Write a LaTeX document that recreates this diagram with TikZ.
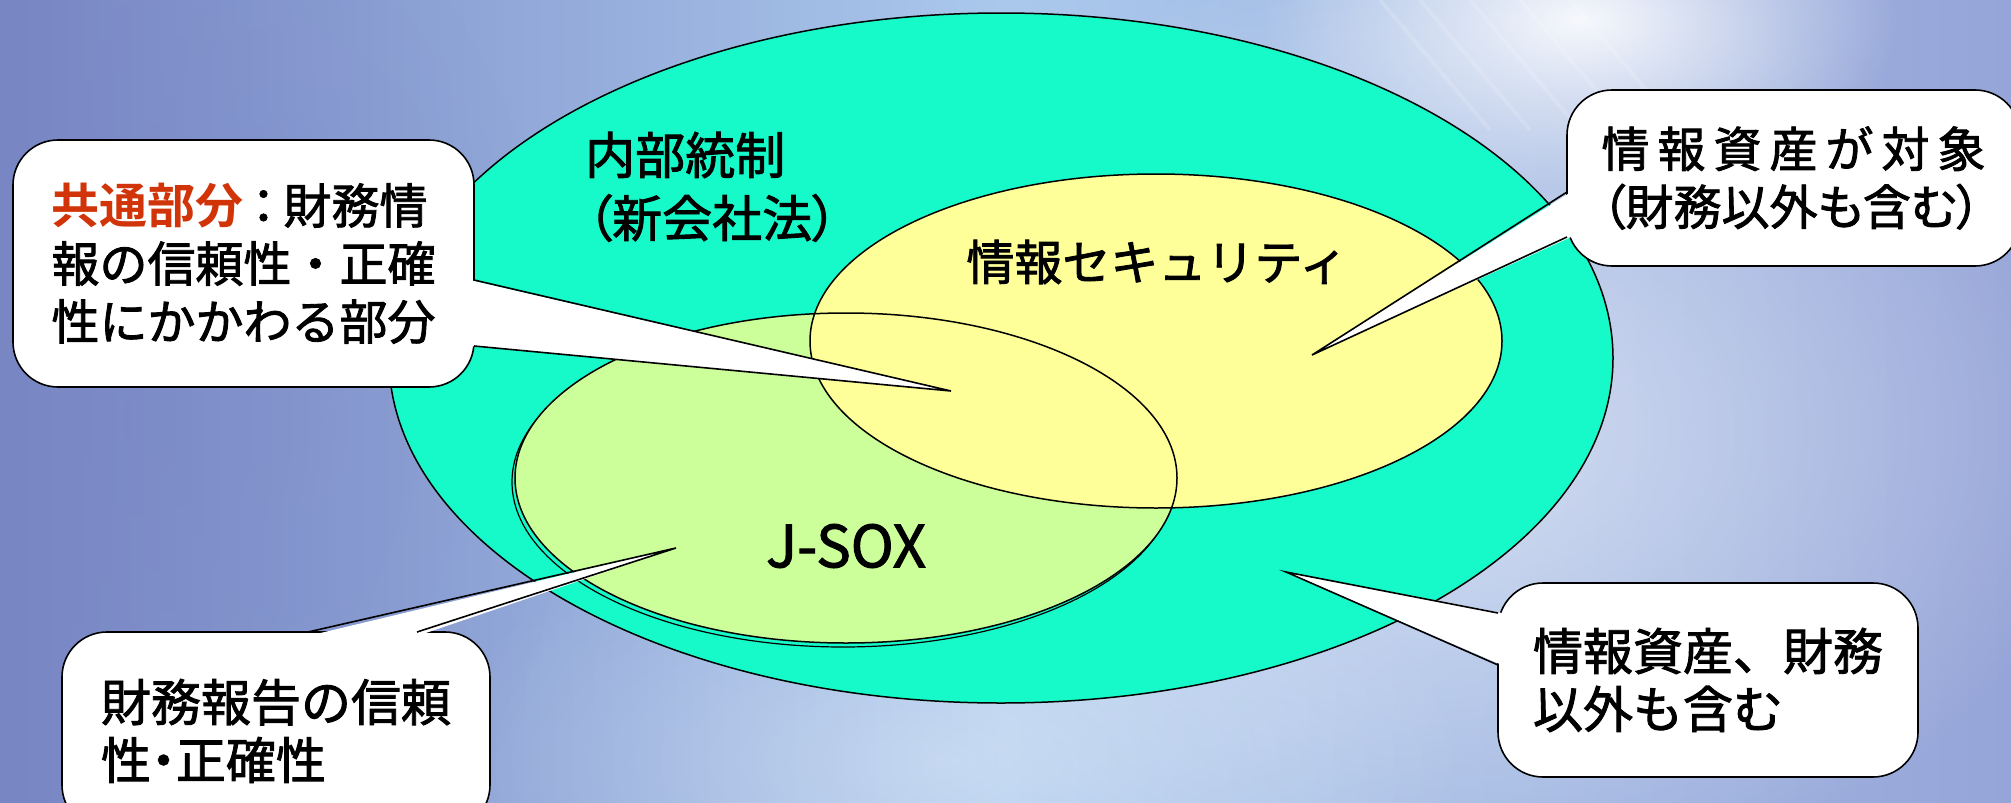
\documentclass[tikz,border=0pt]{standalone}
\usepackage{fontspec}
\setmainfont{Noto Sans CJK JP}[FakeBold=1.8]
\newfontfamily\jpp{Noto Sans CJK JP}[RawFeature=+palt, FakeBold=1.8]
\newfontfamily\jpbold{Noto Sans CJK JP Bold}
\usetikzlibrary{fadings}
\definecolor{bgL}{RGB}{120,134,196}
\definecolor{bgM}{RGB}{170,200,236}
\definecolor{bgR}{RGB}{150,165,216}
\definecolor{cyanF}{RGB}{22,250,202}
\definecolor{yelF}{RGB}{255,255,153}
\definecolor{grnF}{RGB}{204,255,153}
\definecolor{jred}{RGB}{208,52,8}
\tikzfading[name=glowfade, inner color=transparent!0, outer color=transparent!100]
\begin{document}
\begin{tikzpicture}[x=1pt,y=-1pt,
  ell/.style={draw=black, line width=1.5pt},
  callout/.style={draw=black, fill=white, line width=1.6pt, rounded corners=45pt,
    inner sep=0pt, align=left},
  wedgeline/.style={draw=black, line width=1.6pt},
  lbl/.style={inner sep=0pt, text=black}]
\useasboundingbox (0,0) rectangle (2011,803);
% background
\shade[left color=bgL, right color=bgR, middle color=bgM] (0,0) rectangle (2011,803);
\fill[white, opacity=0.55, path fading=glowfade] (1450,430) ellipse (650pt and 480pt);
\fill[white, opacity=0.9, path fading=glowfade] (1580,20) ellipse (320pt and 170pt);
\fill[white, opacity=0.35, path fading=glowfade] (950,760) ellipse (520pt and 260pt);
\fill[bgL, opacity=0.4, path fading=glowfade] (150,420) ellipse (420pt and 600pt);
\foreach \a in {1380, 1420, 1470, 1520, 1570}
  \draw[white, opacity=0.15, line width=4pt] (\a,0) -- ++(110,130);
% ellipses
\fill[cyanF] (1001,358) ellipse (612pt and 345pt);
\draw[ell] (1001,358) ellipse (612pt and 345pt);
\draw[black, line width=1.2pt] (843,482) ellipse (331pt and 165pt);
\fill[grnF] (846,478) ellipse (331pt and 165pt);
\fill[yelF] (1156,341) ellipse (346pt and 167pt);
\draw[ell] (846,478) ellipse (331pt and 165pt);
\draw[ell] (1156,341) ellipse (346pt and 167pt);
% labels
\node[lbl, anchor=west, font=\fontsize{50}{60}\selectfont] (naibu) at (585,155) {内部統制};
\node[lbl, anchor=west, font=\fontsize{50}{60}\selectfont\jpp] (shinkaisha) at (587,218) {（新会社法）};
\node[lbl, font=\fontsize{48}{58}\selectfont] (security) at (1157,262) {情報セキュリティ};
\node[lbl, font=\fontsize{58}{60}\selectfont] (jsox) at (846,546) {J-SOX};
% callout boxes
\node[callout, minimum width=461pt, minimum height=247pt, font=\fontsize{48}{58}\selectfont] (c1) at (243.5,263.5)
  {{\jpbold\color{jred}共通部分}{\jpp\,：\,}財務情\\報の信頼性・正確\\性にかかわる部分};
\node[callout, minimum width=453pt, minimum height=176pt, font=\fontsize{48}{58}\selectfont] (c2) at (1793.5,178)
  {情\,報\,資\,産\,が\,対\,象\\{\jpp （財務以外も含む）}};
\node[callout, minimum width=428pt, minimum height=198pt, font=\fontsize{50}{58}\selectfont] (c3) at (276,731)
  {財務報告の信頼\\性{\jpp ・}正確性};
\node[callout, minimum width=420pt, minimum height=194pt, font=\fontsize{50}{58}\selectfont] (c4) at (1708,680)
  {情報資産、財務\\以外も含む};
% pointer coordinates
\coordinate (t1) at (951,391);
\coordinate (c1a) at (474,280);
\coordinate (c1b) at (474,346);
\coordinate (t2) at (1312,355);
\coordinate (c2a) at (1567,192);
\coordinate (c2b) at (1567,237);
\coordinate (t3) at (676,548);
\coordinate (c3a) at (308,632);
\coordinate (c3b) at (417,632);
\coordinate (t4) at (1286,572);
\coordinate (c4a) at (1498,613);
\coordinate (c4b) at (1498,665);
% wedges
\fill[white] ([xshift=-4pt]c1a) -- (t1) -- ([xshift=-4pt]c1b) -- cycle;
\draw[wedgeline] (c1a) -- (t1) -- (c1b);
\fill[white] ([xshift=4pt]c2a) -- (t2) -- ([xshift=4pt]c2b) -- cycle;
\draw[wedgeline] (c2a) -- (t2) -- (c2b);
\fill[white] ([yshift=-4pt]c3a) -- (t3) -- ([yshift=-4pt]c3b) -- cycle;
\draw[wedgeline] (c3a) -- (t3) -- (c3b);
\fill[white] ([xshift=4pt]c4a) -- (t4) -- ([xshift=4pt]c4b) -- cycle;
\draw[wedgeline] (c4a) -- (t4) -- (c4b);
\end{tikzpicture}
\end{document}
